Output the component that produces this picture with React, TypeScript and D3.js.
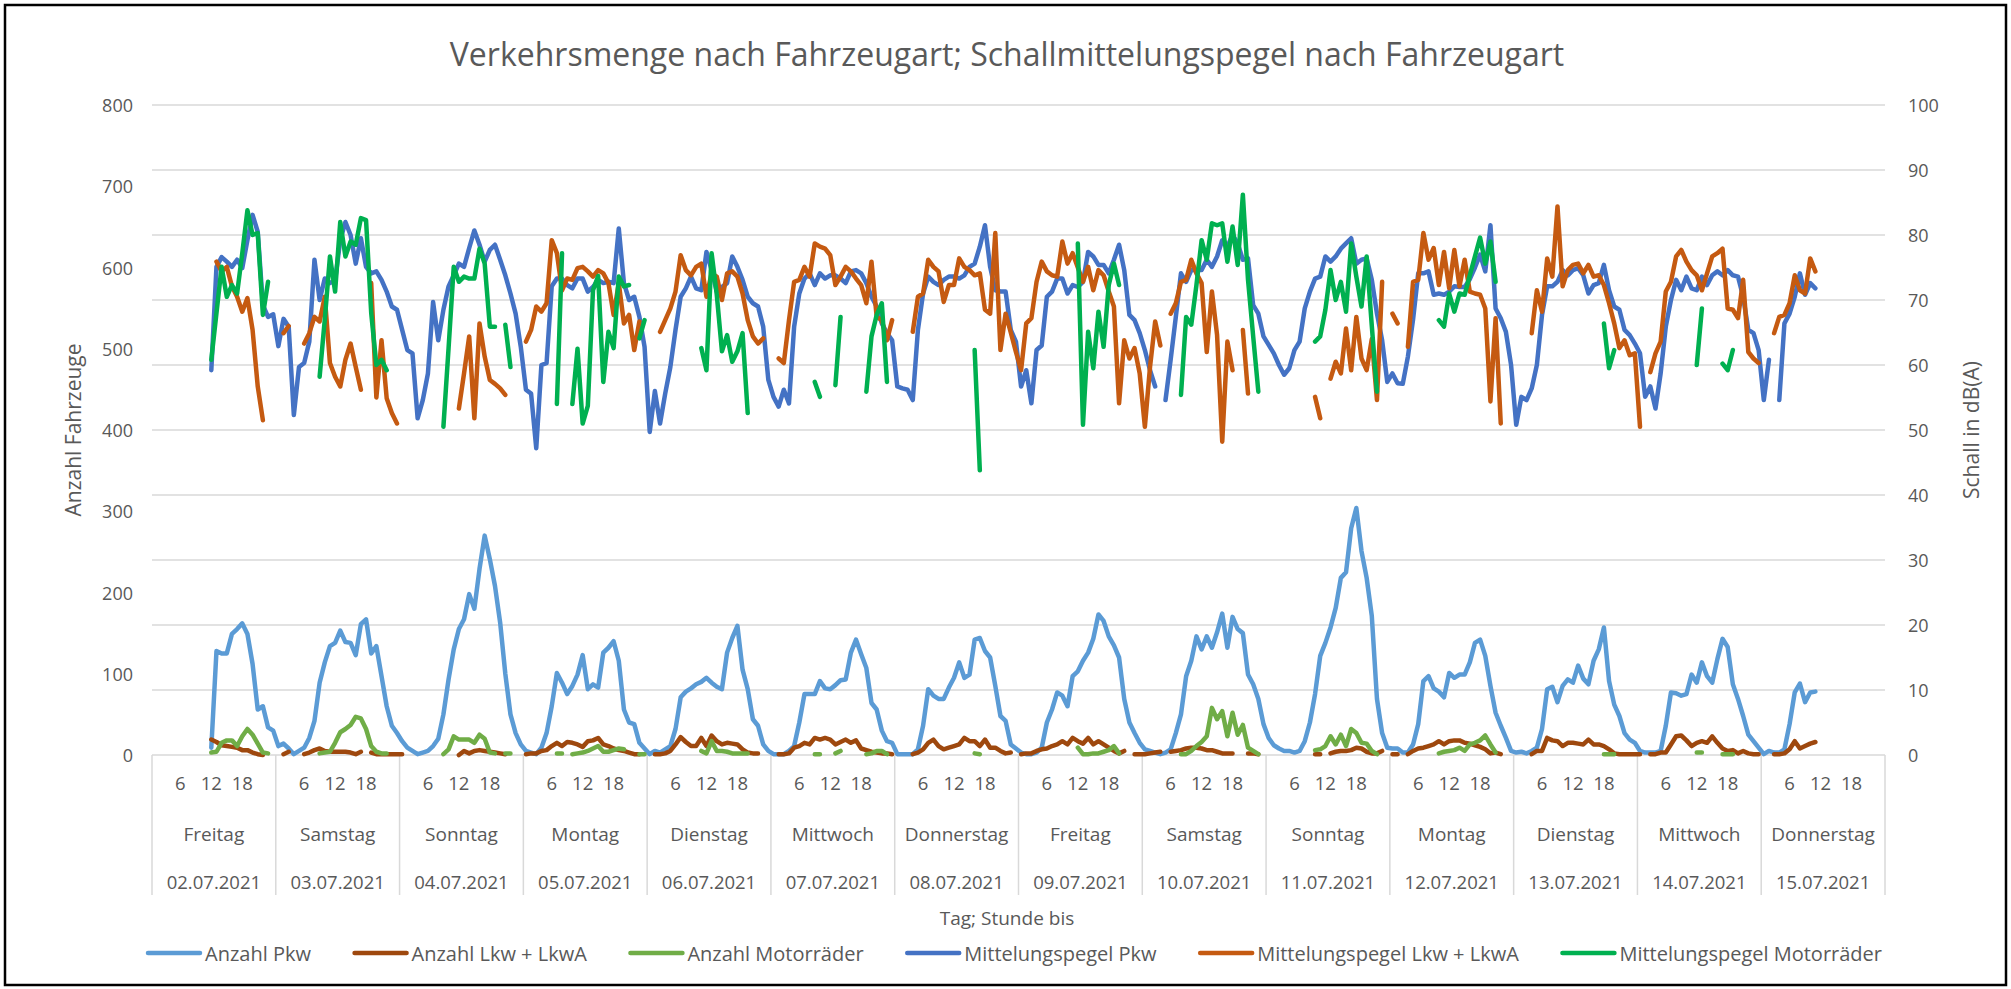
import * as d3 from "d3";

type V = number | null;
const N = null;

const days = ["Freitag", "Samstag", "Sonntag", "Montag", "Dienstag", "Mittwoch", "Donnerstag",
  "Freitag", "Samstag", "Sonntag", "Montag", "Dienstag", "Mittwoch", "Donnerstag"];
const dates = ["02.07.2021", "03.07.2021", "04.07.2021", "05.07.2021", "06.07.2021", "07.07.2021", "08.07.2021",
  "09.07.2021", "10.07.2021", "11.07.2021", "12.07.2021", "13.07.2021", "14.07.2021", "15.07.2021"];
// hour of day ("Stunde bis", 1..24) that gets a label
const hourTicks = [6, 12, 18];

// one row per day, 24 hourly values
const anzahlPkw: V[] = [
  N, N, N, N, N, N, N, N, N, N, N, 9, 128, 125, 125, 149, 155, 162, 149, 112, 56, 60, 34, 30,
  11, 14, 8, 1, 5, 9, 21, 42, 89, 114, 134, 138, 153, 139, 138, 123, 161, 167, 125, 134, 97, 60, 36, 27,
  17, 9, 5, 1, 3, 5, 11, 20, 50, 93, 130, 155, 167, 198, 180, 229, 270, 241, 208, 163, 100, 50, 27, 13,
  5, 3, 1, 9, 27, 60, 101, 89, 75, 85, 99, 123, 81, 87, 83, 126, 132, 140, 116, 56, 40, 38, 15, 8,
  1, 5, 3, 7, 11, 32, 71, 78, 82, 87, 90, 95, 89, 84, 81, 126, 144, 159, 105, 81, 44, 36, 13, 5,
  1, 1, 1, 5, 11, 40, 75, 75, 75, 91, 82, 81, 86, 92, 93, 126, 142, 124, 107, 64, 56, 30, 17, 15,
  1, 1, 1, 1, 7, 36, 81, 73, 69, 69, 83, 95, 114, 95, 99, 142, 144, 128, 120, 85, 48, 42, 13, 8,
  3, 1, 1, 3, 9, 40, 56, 77, 73, 60, 97, 103, 116, 126, 143, 173, 165, 146, 135, 120, 69, 40, 27, 15,
  7, 5, 3, 1, 3, 7, 27, 50, 97, 116, 146, 130, 146, 132, 151, 174, 132, 170, 155, 150, 99, 87, 69, 38,
  21, 12, 8, 5, 5, 3, 5, 17, 40, 75, 122, 138, 157, 181, 218, 225, 279, 304, 251, 218, 171, 69, 27, 9,
  8, 8, 3, 3, 13, 38, 91, 97, 82, 78, 71, 101, 95, 99, 99, 114, 138, 142, 122, 85, 52, 36, 21, 5,
  3, 4, 2, 5, 9, 32, 81, 84, 65, 85, 93, 89, 110, 94, 87, 116, 130, 157, 91, 62, 48, 27, 19, 15,
  5, 3, 3, 3, 5, 36, 77, 76, 73, 75, 99, 89, 114, 97, 89, 118, 143, 133, 87, 69, 48, 25, 17, 9,
  1, 5, 3, 3, 7, 38, 77, 88, 65, 77, 78, N, N, N, N, N, N, N, N, N, N, N, N, N,
];

const anzahlLkw: V[] = [
  N, N, N, N, N, N, N, N, N, N, N, 19, 16, 12, 11, 10, 9, 6, 6, 3, 1, 0, N, N,
  N, 1, 4, N, N, 1, 3, 6, 8, 5, 4, 4, 4, 4, 3, 1, 4, N, 3, 1, 1, 1, 1, 1,
  1, N, N, N, N, N, N, N, N, N, N, 0, 5, 2, 5, 6, 5, 4, 3, 2, 1, N, N, N,
  1, 2, 2, 5, 6, 11, 15, 11, 16, 15, 13, 10, 17, 18, 21, 13, 11, 8, 6, 5, 3, 1, 1, N,
  N, 1, 1, 2, 5, 13, 22, 16, 11, 11, 21, 11, 24, 17, 13, 15, 14, 13, 7, 3, 2, 2, N, N,
  N, 1, 1, 2, 9, 11, 15, 13, 21, 19, 21, 19, 13, 16, 19, 15, 18, 8, 6, 4, 3, 2, 2, 1,
  N, N, N, 1, 3, 7, 15, 19, 11, 7, 9, 11, 13, 21, 17, 17, 11, 19, 9, 9, 5, 2, 3, N,
  1, 2, 2, 5, 7, 8, 11, 13, 17, 13, 21, 17, 14, 21, 13, 17, 13, 9, 5, 2, 5, N, 1, 1,
  1, 2, 3, 4, N, 4, 5, 6, 8, 9, 9, 8, 6, 6, 4, 2, 2, 2, N, N, 2, 2, 1, N,
  N, N, N, N, N, N, N, N, N, 1, 1, N, 2, 4, 5, 5, 6, 9, 8, 4, 2, 2, 5, N,
  1, 1, N, 1, 5, 8, 9, 11, 13, 17, 13, 17, 18, 18, 15, 14, 12, 10, 7, 2, 3, 1, N, N,
  N, N, N, 1, 5, 5, 21, 18, 17, 11, 15, 15, 14, 13, 19, 13, 13, 11, 7, 2, 1, 1, 1, 1,
  1, N, 1, 1, 3, 3, 13, 23, 24, 18, 11, 15, 17, 15, 23, 15, 8, 5, 6, 2, 5, 2, 1, 1,
  N, N, 1, 1, 2, 7, 17, 8, 11, 14, 16, N, N, N, N, N, N, N, N, N, N, N, N, N,
];

const anzahlMoto: V[] = [
  N, N, N, N, N, N, N, N, N, N, N, 3, 4, 15, 18, 18, 11, 23, 32, 25, 14, 3, 2, N,
  N, N, N, N, N, N, N, N, 2, 3, 4, 15, 28, 32, 37, 47, 45, 32, 11, 4, 2, 2, N, N,
  N, N, N, N, N, N, N, N, 1, 7, 23, 19, 19, 19, 15, 25, 20, 3, 2, N, 2, 2, N, N,
  N, N, N, N, N, N, 2, 2, N, 1, 2, 3, 5, 8, 11, 4, 4, 6, 8, 7, N, N, 1, 1,
  N, N, N, N, N, N, N, N, N, N, 5, 2, 17, 5, 5, 4, 2, 2, 2, 2, N, N, N, N,
  N, N, N, N, N, N, N, N, 1, 1, N, N, 2, 5, N, N, N, N, 1, 2, 5, 5, 1, N,
  N, N, N, N, N, N, N, N, N, N, N, N, N, N, N, 2, 1, N, N, N, N, N, N, N,
  N, N, N, N, N, N, N, N, N, N, N, 9, 1, 1, 2, 2, 4, 6, 11, 2, N, N, N, N,
  N, N, N, N, N, N, N, 1, 1, 5, 11, 16, 23, 58, 44, 54, 23, 52, 25, 37, 9, 5, 1, N,
  N, N, N, N, N, N, N, N, N, 6, 7, 11, 23, 13, 25, 11, 32, 27, 15, 14, 5, 1, N, N,
  N, N, N, N, N, N, N, N, N, 2, 4, 5, 6, 9, 5, 13, 15, 18, 24, 13, 3, N, N, N,
  N, N, N, N, N, N, N, N, N, N, N, N, N, N, N, N, N, 1, 1, 1, N, N, N, N,
  N, N, N, N, N, N, N, N, N, N, N, 3, 3, N, N, N, 1, 1, 1, N, N, N, N, N,
  N, N, N, N, N, N, N, N, N, N, N, N, N, N, N, N, N, N, N, N, N, N, N, N,
];

const pegelPkw: V[] = [
  N, N, N, N, N, N, N, N, N, N, N, 59.2, 75.1, 76.6, 75.9, 75.1, 76.2, 74.9, 79.2, 83.1, 80.5, 69.2, 67.4, 67.8,
  62.9, 67.1, 65.9, 52.3, 59.7, 60.3, 63.6, 76.2, 70, 73.3, 72.6, 73, 79.2, 82, 80, 75.6, 79.5, 75.1, 74.1, 74.4, 73.1, 71.3, 69, 68.5,
  65.4, 62.3, 61.8, 51.8, 54.6, 58.7, 69.7, 63.8, 68.5, 72.1, 73.8, 75.6, 75.1, 78, 80.7, 78.5, 75.9, 77.7, 78.5, 76.2, 73.8, 71, 67.9, 62.8,
  56.2, 55.6, 47.2, 60, 60.3, 72.1, 73.3, 73.3, 72.3, 71.8, 73.3, 73.3, 71.3, 72, 73.1, 72.6, 72.8, 72.6, 81, 72.6, 70, 70.5, 67.4, 62.8,
  49.7, 56, 51, 55.6, 59.7, 65.4, 70.5, 71.8, 73.6, 71.8, 71.5, 77.4, 74.6, 71.3, 72, 72.6, 76.7, 75.1, 73.1, 70.5, 69.5, 69, 65.9, 57.7,
  55.1, 53.6, 56.2, 54.1, 65.9, 71, 73.3, 74.1, 72.3, 74.1, 73.3, 73.8, 73.8, 73.3, 72.6, 74.4, 74.6, 74.1, 72.6, 70.5, 69, 66.4, 64.9, 63.8,
  56.7, 56.4, 56.2, 54.6, 65.4, 71, 73.6, 72.8, 72.3, 73.1, 73.6, 73.6, 73.3, 73.8, 75.1, 75.6, 78.2, 81.5, 75.1, 71.5, 71.3, 71.3, 65.4, 63.6,
  56.7, 59.2, 54.1, 62.3, 63, 70.5, 71.3, 73.3, 73.3, 71, 72.3, 72, 72.8, 77.4, 76.7, 75.4, 75.4, 74.1, 76.2, 78.5, 74.6, 67.7, 66.9, 64.9,
  62.3, 59.2, 56.7, N, 54.6, 60.8, 67.4, 74.1, 72.8, 74.6, 74.6, 74.6, 76.2, 75.1, 76.7, 79.2, 78.2, 80, 78.7, 76.2, 76.4, 69.2, 67.9, 64.4,
  63.1, 61.8, 60, 58.5, 59.5, 62.3, 63.6, 68.7, 71.3, 73.3, 73.6, 76.7, 75.9, 76.7, 77.9, 78.7, 79.5, 75.6, 76.2, 76.4, 73.1, 67.9, 63.8, 57.4,
  58.7, 57.2, 57.1, 61.3, 67, 74.1, 74.1, 74.4, 70.8, 71, 70.8, 71.3, 72.1, 72, 72, 73.2, 75, 77, 74.4, 81.5, 68.7, 67.2, 65.1, 60,
  50.8, 55.1, 54.6, 56.4, 60, 67.7, 72.1, 72.1, 72.8, 74.6, 73.8, 74.6, 74.9, 73.8, 71, 72.3, 72.6, 75.4, 71.5, 69, 68.5, 65.4, 64.6, 63.3,
  61.8, 55.1, 56.7, 53.3, 58.7, 65.9, 70, 73.1, 71.5, 73.6, 71.8, 71.5, 73.6, 72.3, 73.8, 74.4, 73.8, 74.6, 73.8, 73.6, 70.5, 65.4, 64.9, 62.3,
  54.6, 60.8, N, 54.6, 66.4, 67.9, 70.5, 74.1, 70.8, 72.6, 71.8, N, N, N, N, N, N, N, N, N, N, N, N, N,
];

const pegelLkw: V[] = [
  N, N, N, N, N, N, N, N, N, N, N, N, 75.9, 74.4, 75.1, 72.1, 70.5, 68.2, 70.3, 65.4, 56.7, 51.5, N, N,
  N, 64.9, 66, N, N, 63.3, 64.9, 67.4, 66.7, 70.5, 60.3, 58.2, 56.7, 60.8, 63.3, 59.7, 56.2, N, 72.6, 55, 63.8, 54.9, 52.6, 51,
  N, N, N, N, N, N, N, N, N, N, N, 53.3, 58.7, 64.4, 51.8, 66.4, 61.3, 57.7, 57.1, 56.4, 55.4, N, N, N,
  63.6, 65.4, 69, 68.2, 69.5, 79.2, 77.2, 71.5, 73.3, 73.1, 74.9, 75.1, 74.4, 73.6, 74.6, 74.1, 72.6, 67.7, 72.6, 66.4, 67.7, 62.3, 66.7, N,
  N, N, 65.1, 66.9, 68.7, 71.3, 76.9, 74.6, 73.8, 75.1, 75.6, 70.5, 74.1, 73.6, 70, 74.1, 74.4, 73.6, 71, 66.9, 64.4, 63.3, 64.1, N,
  N, 61, 60.3, 66.9, 72.8, 73.1, 75.1, 73.6, 78.7, 78.2, 77.9, 76.9, 72.3, 73.6, 75.1, 74.4, 73.3, 72.3, 69.5, 75.9, 67.4, 66.9, 63.8, 66.9,
  N, N, N, 65.1, 70.5, 71, 76.2, 75.1, 74.4, 69.7, 72.3, 72.3, 76.4, 75.1, 74.6, 73.8, 74.1, 68.5, 67.9, 80.3, 62.3, 67.9, 65, 62,
  59.2, 66.4, 67.2, 72.8, 75.9, 74.4, 73.8, 73.6, 79, 75.6, 77.2, 75, 72.8, 75.1, 71.5, 74.6, 73.8, 71.3, 69, 54.1, 63.8, 61, 62.6, 58.7,
  50.5, 59.7, 66.7, 63, N, 67.9, 69.5, 72.8, 73.1, 76.2, 74.1, 72.6, 62, 71.3, 64.6, 48.2, 63.6, 59.2, N, 65.4, 55.6, N, N, N,
  N, N, N, N, N, N, N, N, N, 55.1, 51.8, N, 57.9, 60.5, 58.7, 65.6, 59.2, 67.4, 61, 59.2, 64, 54.6, 72.8, N,
  67.9, 66.4, N, 62.8, 72.8, 73.1, 80.3, 76.2, 78, 72.3, 77.4, 71.8, 77.7, 72.1, 76.2, 71.3, 71, 70.8, 68.7, 54.4, 67.2, 51, N, N,
  N, N, N, 64.9, 71.5, 68.2, 76.4, 73.6, 84.4, 72.1, 74.6, 75.4, 75.6, 74.1, 75.4, 73.6, 73.8, 72.3, 69.5, 66.4, 62.6, 63.8, 61.5, 61.8,
  50.5, N, 58.9, 61.8, 63.6, 71.3, 72.8, 76.7, 77.7, 75.9, 74.6, 73.8, 71.5, 74.1, 76.7, 77.2, 77.9, 68.7, 68.5, 67.2, 73.1, 62, 61, 60.3,
  N, N, 64.9, 67.4, 67.7, 69.5, 73.8, 71.5, 71, 76.4, 74.4, N, N, N, N, N, N, N, N, N, N, N, N, N,
];

const pegelMoto: V[] = [
  N, N, N, N, N, N, N, N, N, N, N, 60.8, 68, 75.1, 70.5, 72.3, 71, 77.2, 83.8, 80, 80.3, 67.7, 72.8, N,
  N, N, N, N, N, N, N, N, 58.2, 67, 76.7, 71.3, 82, 76.7, 79, 78.5, 82.6, 82.3, 68, 60, 60.8, 59.2, N, N,
  N, N, N, N, N, N, N, N, 50.5, 62.6, 75.1, 72.8, 73.6, 73.3, 73.3, 77.9, 75.6, 65.9, 65.9, N, 66.2, 59.7, N, N,
  N, N, N, N, N, N, 54, 77.2, N, 54, 62.5, 51, 53.7, 71.5, 73.7, 57.4, 65.1, 62.6, 73.6, 72.1, 72.3, N, 64.1, 66.9,
  N, N, N, N, N, N, N, N, N, N, 62.6, 59.2, 77.2, 70.8, 62.1, 64.6, 60.5, 62.1, 64.9, 52.6, N, N, N, N,
  N, N, N, N, N, N, N, N, 57.4, 55.1, N, N, 56.9, 67.4, N, N, N, N, 55.9, 64.4, 67.7, 69.5, 57.4, N,
  N, N, N, N, N, N, N, N, N, N, N, N, N, N, N, 62.3, 43.8, N, N, N, N, N, N, N,
  N, N, N, N, N, N, N, N, N, N, N, 78.7, 50.8, 65.1, 59.5, 68.2, 62.8, 72.3, 75.6, 72.3, N, N, N, N,
  N, N, N, N, N, N, N, 55.4, 67.4, 66.2, 72.3, 79.2, 76.2, 81.8, 81.5, 81.8, 75.9, 81.3, 75.4, 86.2, 73.1, 64.4, 55.9, N,
  N, N, N, N, N, N, N, N, N, 63.6, 64.4, 68.5, 74.6, 70, 72.8, 68.2, 78.7, 73.6, 69, 76.7, 66, 55.9, N, N,
  N, N, N, N, N, N, N, N, N, 66.9, 65.9, 71, 68.2, 71, 70.8, 73.8, 76.7, 79.6, 75.6, 79, 72.8, N, N, N,
  N, N, N, N, N, N, N, N, N, N, N, N, N, N, N, N, N, 66.4, 59.5, 62.3, N, N, N, N,
  N, N, N, N, N, N, N, N, N, N, N, 60, 68.7, N, N, N, 60.2, 59.2, 62.3, N, N, N, N, N,
  N, N, N, N, N, N, N, N, N, N, N, N, N, N, N, N, N, N, N, N, N, N, N, N,
];

const countSeries = [
  { name: "Anzahl Pkw", values: anzahlPkw, color: "#5B9BD5" },
  { name: "Anzahl Lkw + LkwA", values: anzahlLkw, color: "#9E480E" },
  { name: "Anzahl Motorräder", values: anzahlMoto, color: "#70AD47" },
];
const pegelSeries = [
  { name: "Mittelungspegel Pkw", values: pegelPkw, color: "#4472C4" },
  { name: "Mittelungspegel Lkw + LkwA", values: pegelLkw, color: "#C55A11" },
  { name: "Mittelungspegel Motorräder", values: pegelMoto, color: "#00B050" },
];

const FONT = '"Open Sans", "Noto Sans", sans-serif';
const TXT = "#595959";
const GRID = "#D9D9D9";

function measure(text: string, size: number) {
  const ctx = document.createElement("canvas").getContext("2d");
  if (!ctx) return text.length * size * 0.52;
  ctx.font = `${size}px ${FONT}`;
  return ctx.measureText(text).width;
}

export default function App() {
  const W = 2011, H = 989;
  const left = 152, right = 1885, top = 105, bottom = 755;
  const n = days.length * 24;

  const x = d3.scaleLinear().domain([0, n]).range([left, right]);
  const yCount = d3.scaleLinear().domain([0, 800]).range([bottom, top]);
  const yDb = d3.scaleLinear().domain([0, 100]).range([bottom, top]);

  const lineFor = (y: d3.ScaleLinear<number, number>) =>
    d3.line<V>()
      .defined((d) => d != null)
      .x((_, i) => x(i + 0.5))
      .y((d) => y(d as number));

  const countLine = lineFor(yCount);
  const dbLine = lineFor(yDb);

  const countTicks = d3.range(0, 801, 100);
  const dbTicks = d3.range(0, 101, 10);

  // legend layout, spread across the chart width
  const legendSize = 20;
  const all = [...countSeries, ...pegelSeries];
  const swatch = 52, pad = 5;
  const widths = all.map((s) => swatch + pad + measure(s.name, legendSize));
  const legL = 148, legR = 1882;
  const gap = (legR - legL - d3.sum(widths)) / (all.length - 1);
  let cur = legL;
  const legendItems = all.map((s, k) => {
    const item = { ...s, x: cur };
    cur += widths[k] + gap;
    return item;
  });

  return (
    <svg width={W} height={H} style={{ position: "absolute", left: 0, top: 0, background: "#fff" }}
      fontFamily={FONT}>
      <rect x={0} y={0} width={W} height={H} fill="#fff" />
      <rect x={5} y={5} width={2001} height={980} fill="none" stroke="#000" strokeWidth={2.5} />

      <text x={1007} y={53} textAnchor="middle" dominantBaseline="central" fontSize={32} fill={TXT}>
        Verkehrsmenge nach Fahrzeugart; Schallmittelungspegel nach Fahrzeugart
      </text>

      {/* gridlines */}
      {dbTicks.map((t) => (
        <line key={t} x1={left} x2={right} y1={yDb(t)} y2={yDb(t)} stroke={GRID} strokeWidth={1.5} />
      ))}

      {/* left axis */}
      {countTicks.map((t) => (
        <text key={t} x={133} y={yCount(t)} textAnchor="end" dominantBaseline="central" fontSize={18} fill={TXT}>
          {t}
        </text>
      ))}
      <text transform={`translate(73,${(top + bottom) / 2}) rotate(-90)`} textAnchor="middle"
        dominantBaseline="central" fontSize={21} fill={TXT}>Anzahl Fahrzeuge</text>

      {/* right axis */}
      {dbTicks.map((t) => (
        <text key={t} x={1908} y={yDb(t)} dominantBaseline="central" fontSize={18} fill={TXT}>
          {t}
        </text>
      ))}
      <text transform={`translate(1971,${(top + bottom) / 2}) rotate(-90)`} textAnchor="middle"
        dominantBaseline="central" fontSize={21} fill={TXT}>Schall in dB(A)</text>

      {/* category axis */}
      {d3.range(days.length + 1).map((d) => (
        <line key={d} x1={x(d * 24)} x2={x(d * 24)} y1={bottom} y2={895} stroke={GRID} strokeWidth={1.5} />
      ))}
      {days.map((day, d) => (
        <g key={d}>
          {hourTicks.map((h) => (
            <text key={h} x={x(d * 24 + h - 0.5)} y={782} textAnchor="middle" dominantBaseline="central"
              fontSize={18.5} fill={TXT}>{h}</text>
          ))}
          <text x={x(d * 24 + 12)} y={834} textAnchor="middle" dominantBaseline="central" fontSize={19} fill={TXT}>
            {day}
          </text>
          <text x={x(d * 24 + 12)} y={881} textAnchor="middle" dominantBaseline="central" fontSize={18.5} fill={TXT}>
            {dates[d]}
          </text>
        </g>
      ))}
      <text x={1007} y={918} textAnchor="middle" dominantBaseline="central" fontSize={19} fill={TXT}>
        Tag; Stunde bis
      </text>

      {/* series */}
      {countSeries.map((s) => (
        <path key={s.name} d={countLine(s.values) ?? ""} fill="none" stroke={s.color} strokeWidth={4.5}
          strokeLinecap="round" strokeLinejoin="round" />
      ))}
      {pegelSeries.map((s) => (
        <path key={s.name} d={dbLine(s.values) ?? ""} fill="none" stroke={s.color} strokeWidth={4.5}
          strokeLinecap="round" strokeLinejoin="round" />
      ))}

      {/* legend */}
      {legendItems.map((s) => (
        <g key={s.name}>
          <line x1={s.x} x2={s.x + swatch} y1={953} y2={953} stroke={s.color} strokeWidth={4.5} strokeLinecap="round" />
          <text x={s.x + swatch + pad} y={953} dominantBaseline="central" fontSize={legendSize} fill={TXT}>
            {s.name}
          </text>
        </g>
      ))}
    </svg>
  );
}
